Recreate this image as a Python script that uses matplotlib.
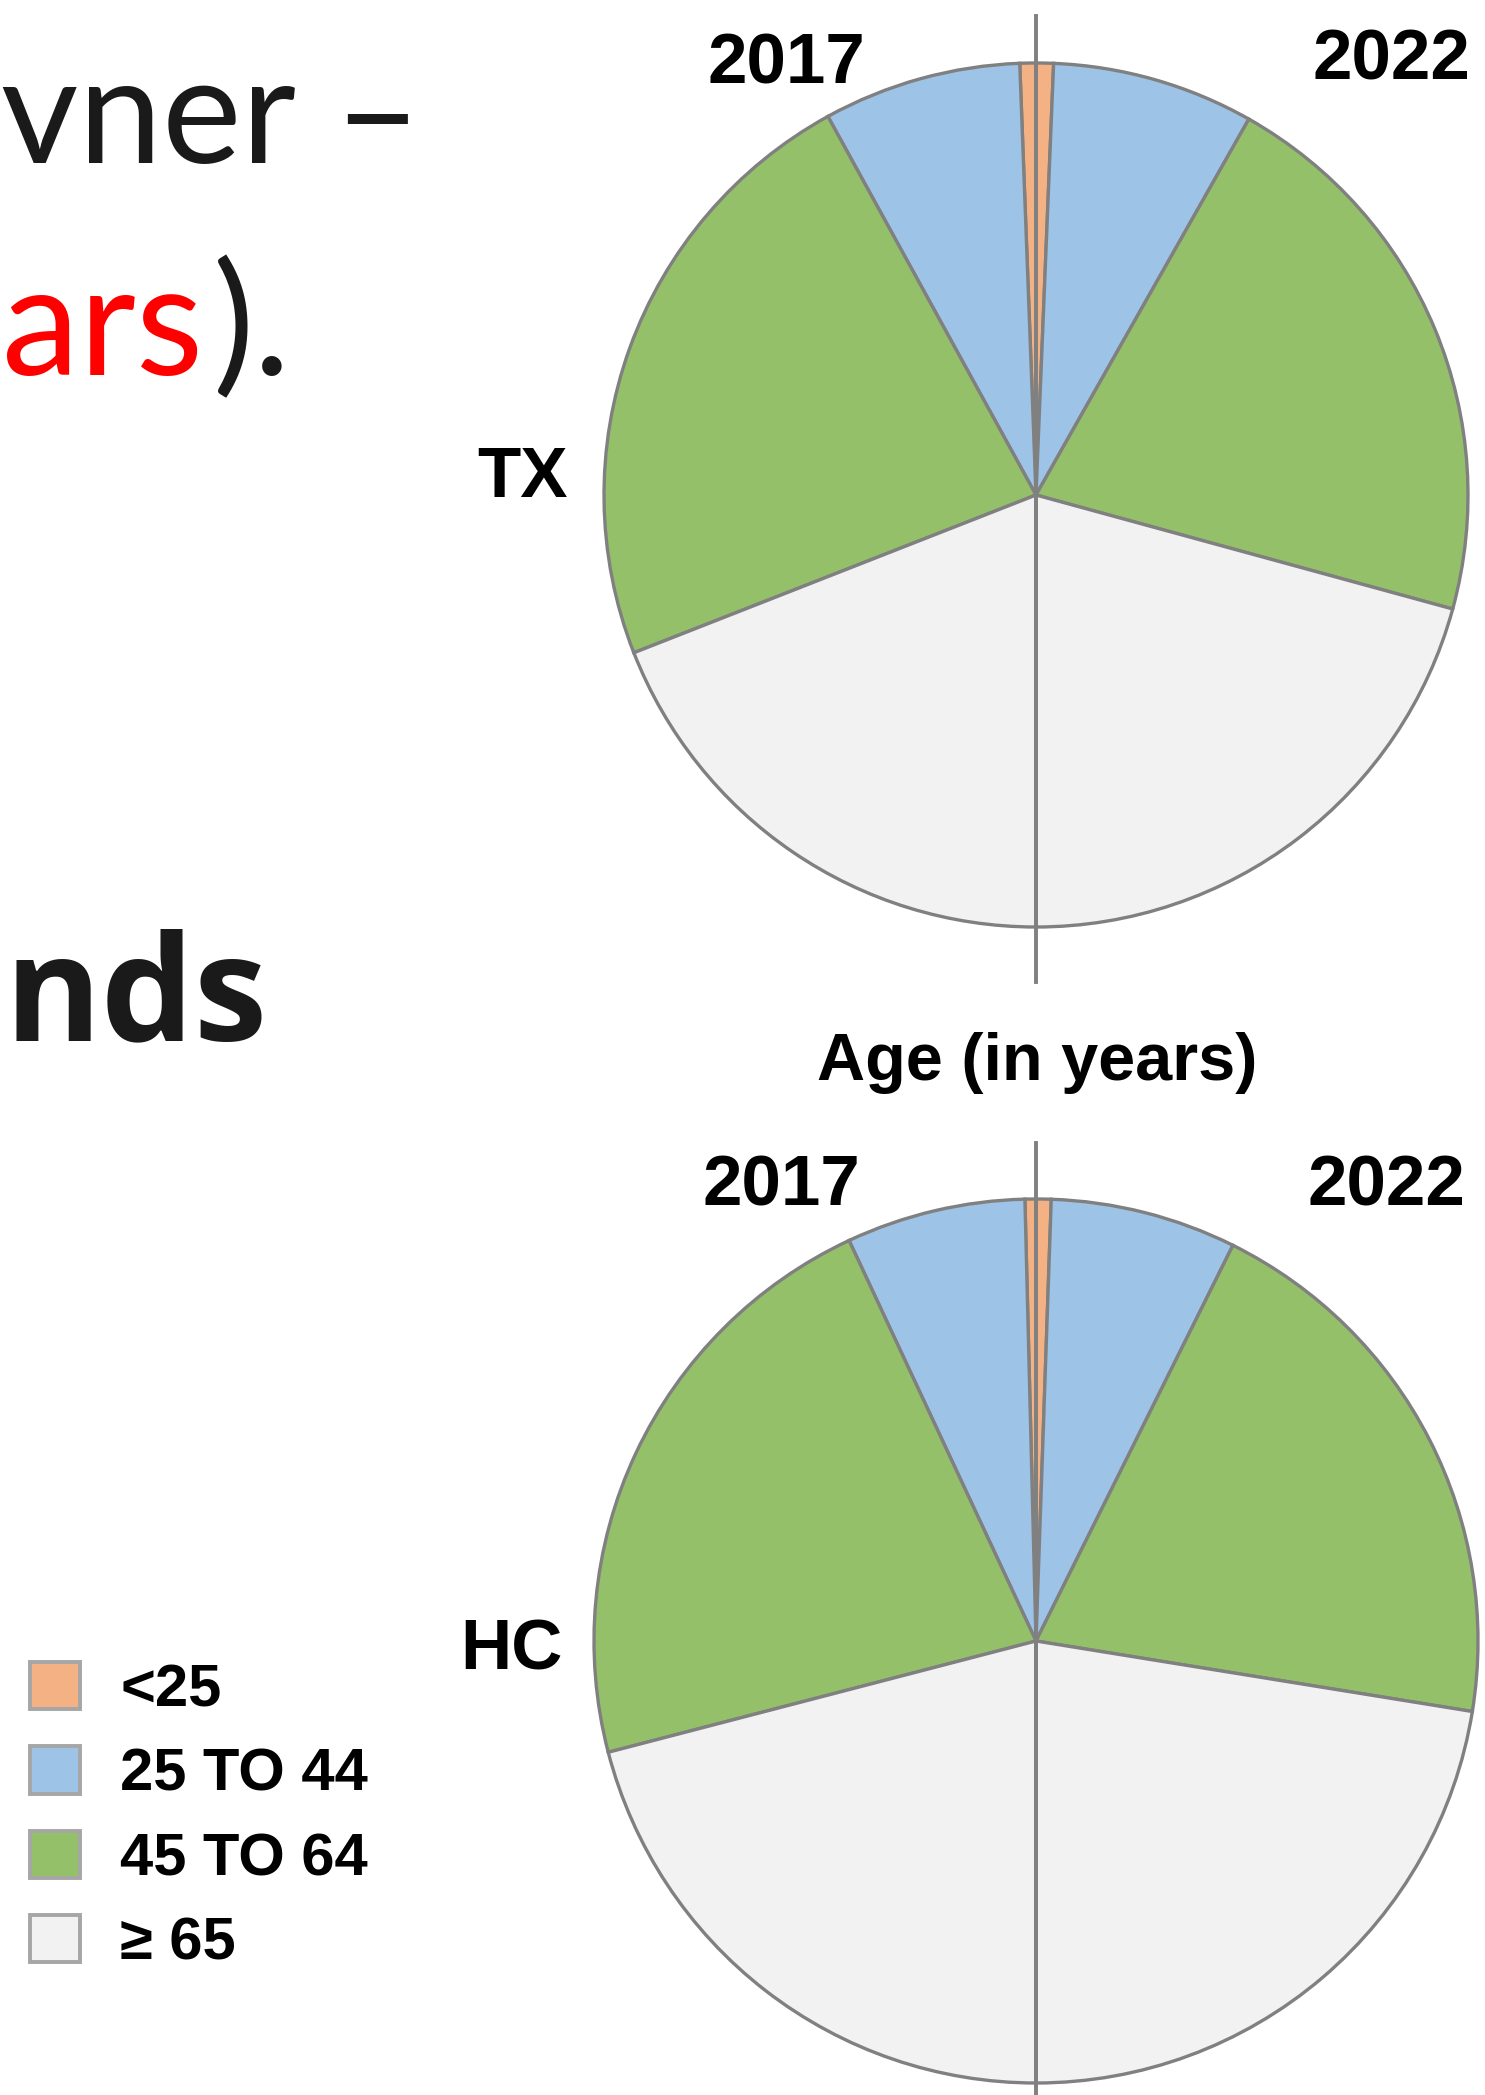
import matplotlib.pyplot as plt
import matplotlib.patches as mpatches

# age groups and shares (%)
age_groups = ['<25', '25 TO 44', '45 TO 64', '≥ 65']
colors = ['#F4B183', '#9DC3E6', '#95C06A', '#F2F2F2']
tx_2017 = [1.2, 14.8, 45.9, 38.1]
tx_2022 = [1.3, 15.1, 42.1, 41.5]
hc_2017 = [0.8, 13.1, 44.2, 41.9]
hc_2022 = [1.1, 13.6, 40.4, 44.9]
years = ['2017', '2022']
regions = ['TX', 'HC']

W, H = 1485, 2095
fig = plt.figure(figsize=(W / 100, H / 100), dpi=100)
fig.patch.set_facecolor('white')
ax = fig.add_axes([0, 0, 1, 1])

bold = dict(family=['Liberation Sans', 'DejaVu Sans'], weight='bold', color='black')
edge = dict(edgecolor='#808080', linewidth=2.4)


def split_pie(left_vals, right_vals, center, r):
    # left half = 2017 (counter-clockwise from top), right half = 2022 (clockwise)
    ax.pie([v / 200 for v in left_vals], colors=colors, startangle=90, counterclock=True,
           normalize=False, center=center, radius=r, wedgeprops=edge, frame=True)
    ax.pie([v / 200 for v in right_vals], colors=colors, startangle=90, counterclock=False,
           normalize=False, center=center, radius=r, wedgeprops=edge, frame=True)


split_pie(tx_2017, tx_2022, (1036, 1600), 432)
split_pie(hc_2017, hc_2022, (1036, 454), 442)

# divider lines
ax.plot([1036, 1036], [2079, 1113], color='#808080', lw=2.8, zorder=5)
ax.plot([1036, 1036], [952, -5], color='#808080', lw=2.8, zorder=5)

# labels
ax.text(786, 2012, years[0], ha='center', va='baseline', fontsize=51, **bold)
ax.text(1391, 2015, years[1], ha='center', va='baseline', fontsize=51, **bold)
ax.text(781, 889, years[0], ha='center', va='baseline', fontsize=51, **bold)
ax.text(1386, 889, years[1], ha='center', va='baseline', fontsize=51, **bold)
ax.text(523, 1598, regions[0], ha='center', va='baseline', fontsize=51, **bold)
ax.text(511, 425, regions[1], ha='center', va='baseline', fontsize=51, **bold)
ax.text(1037, 1015, 'Age (in years)', ha='center', va='baseline', fontsize=48, **bold)

# slide text (only the part visible in the crop)
ax.text(421, 1932, 'vner –', ha='right', va='baseline', fontsize=108, family='Lato', color='#1a1a1a')
ax.text(203, 1720, 'ars', ha='right', va='baseline', fontsize=112, family='Lato', color='#ff0000')
ax.text(290, 1720, ').', ha='right', va='baseline', fontsize=112, family='Lato', color='#1a1a1a')
ax.text(268, 1055, 'nds', ha='right', va='baseline', fontsize=106, family='Open Sans',
        weight='bold', color='#1a1a1a')

# legend
handles = [mpatches.Patch(facecolor=c, edgecolor='#A6A6A6', linewidth=2.8) for c in colors]
fig.legend(handles, age_groups, loc='upper left', bbox_to_anchor=(30 / W, 1 - 1662 / H),
           frameon=False, borderpad=0, borderaxespad=0, handlelength=0.84, handleheight=0.84,
           handletextpad=0.67, labelspacing=0.47,
           prop=dict(family=['Liberation Sans', 'DejaVu Sans'], weight='bold', size=43))

ax.set_xlim(0, W)
ax.set_ylim(0, H)
ax.set_aspect('equal')
ax.axis('off')

fig.savefig('out.png', dpi=100, facecolor='white')
